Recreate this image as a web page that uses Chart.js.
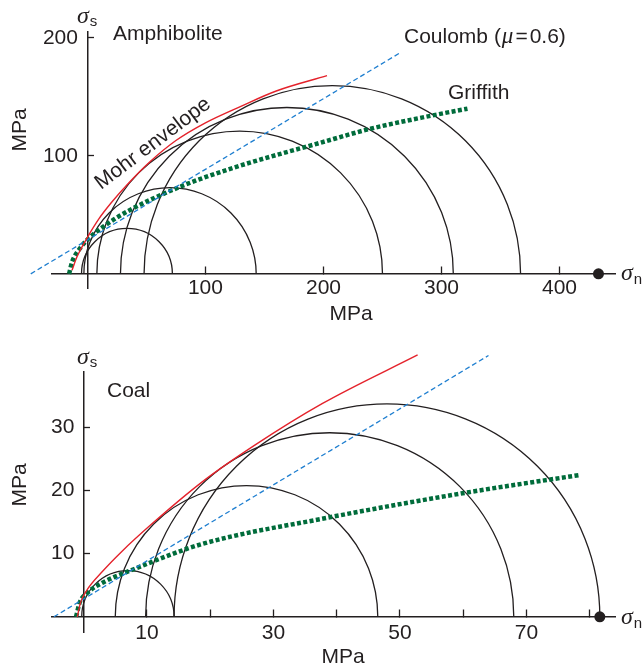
<!DOCTYPE html>
<html>
<head>
<meta charset="utf-8">
<script src="https://cdn.jsdelivr.net/npm/chart.js@4.4.1/dist/chart.umd.min.js"></script>
<style>
  html, body { margin: 0; padding: 0; background: #fff; }
  canvas { display: block; }
</style>
</head>
<body>
<canvas id="amph" width="644" height="330"></canvas>
<canvas id="coal" width="644" height="336"></canvas>
<script>
// ---- Amphibolite (MPa) ----
// Mohr circles given as [sigma3, sigma1]
const amphCircles  = [[-5, 72], [-3, 143], [8, 250], [28, 310], [48, 367]];
const amphMohr     = [[-13, 3], [-9, 14], [-5, 22], [0, 31], [10, 47], [20, 60], [35, 77], [53, 95], [75, 113], [100, 128], [130, 142], [160, 155], [203, 168]];
const amphCoulomb  = [[-48, 0], [266, 188]];
const amphGriffith = [[-15.5, 0], [-13, 10], [-6, 22], [0, 29], [13.5, 40], [34, 53], [79, 74], [124, 90], [197, 111], [240, 123], [291, 134], [322, 140]];
const amphPoint    = [[433, 0]];
const amphXTicks   = [100, 200, 300, 400];
const amphXLabels  = [100, 200, 300, 400];
const amphYTicks   = [100, 200];

// ---- Coal (MPa) ----
const coalCircles  = [[-0.3, 14.3], [5, 46.5], [9.8, 68], [14.3, 81.6]];
const coalMohr     = [[-1, 0], [-0.5, 2.2], [0.5, 4.2], [3, 7.2], [6, 10.3], [10.8, 14.7], [18.7, 21.3], [27, 27.1], [37.7, 33.7], [52.8, 41.4]];
const coalCoulomb  = [[-4.7, 0], [64, 41.3]];
const coalGriffith = [[-1.2, 0], [-0.6, 2.3], [0.6, 3.8], [3, 5.4], [8.1, 7.6], [18.7, 11.5], [37.7, 15.5], [60.3, 19.6], [78.3, 22.4]];
const coalPoint    = [[81.6, 0]];
const coalXTicks   = [10, 20, 30, 40, 50, 60, 70, 80];
const coalXLabels  = [10, 30, 50, 70];
const coalYTicks   = [10, 20, 30];

const SANS  = '"Liberation Sans", Arial, Helvetica, sans-serif';
const SERIF = '"Liberation Serif", "Times New Roman", serif';
const INK   = '#231f20';
const RED   = '#e4222b';
const BLUE  = '#1f7fd0';
const GREEN = '#006c3b';

const toXY = arr => arr.map(([x, y]) => ({ x, y }));

// Semicircles centred on the sigma_n axis, mapped through the chart scales
function circlePlugin(circles) {
  return {
    id: 'mohrCircles',
    beforeDatasetsDraw(chart) {
      const { ctx, scales: { x, y } } = chart;
      ctx.save();
      ctx.strokeStyle = INK;
      ctx.lineWidth = 1.3;
      circles.forEach(([s3, s1]) => {
        const c = (s3 + s1) / 2, r = (s1 - s3) / 2;
        const cx = x.getPixelForValue(c);
        const cy = y.getPixelForValue(0);
        const rx = x.getPixelForValue(c + r) - cx;
        const ry = cy - y.getPixelForValue(r);
        ctx.beginPath();
        ctx.ellipse(cx, cy, rx, ry, 0, Math.PI, 2 * Math.PI);
        ctx.stroke();
      });
      ctx.restore();
    }
  };
}

// Free-standing labels: axis symbols, titles and curve names
function textPlugin(items) {
  return {
    id: 'figureText',
    afterDraw(chart) {
      const ctx = chart.ctx;
      ctx.save();
      ctx.fillStyle = INK;
      ctx.textBaseline = 'alphabetic';
      items.forEach(it => {
        ctx.save();
        ctx.translate(it.x, it.y);
        if (it.rotate) ctx.rotate(it.rotate * Math.PI / 180);
        let total = 0;
        it.runs.forEach(r => { ctx.font = r.font; total += ctx.measureText(r.t).width + (r.dx || 0); });
        let cx = it.center ? -total / 2 : 0;
        it.runs.forEach(r => {
          ctx.font = r.font;
          cx += (r.dx || 0);
          ctx.fillText(r.t, cx, r.dy || 0);
          cx += ctx.measureText(r.t).width;
        });
        ctx.restore();
      });
      ctx.restore();
    }
  };
}

const F21 = `21px ${SANS}`;
const SIG = `italic 24px ${SERIF}`;
const SUB = `15px ${SANS}`;

function buildChart(canvasId, d) {
  const tickFont = { family: SANS, size: 21 };
  const setTicks = list => s => { s.ticks = list.map(v => ({ value: v })); };
  return new Chart(document.getElementById(canvasId), {
    type: 'scatter',
    data: {
      datasets: [
        { label: 'Mohr envelope', data: toXY(d.mohr), showLine: true, borderColor: RED, borderWidth: 1.4,
          pointRadius: 0, cubicInterpolationMode: 'monotone', clip: false },
        { label: 'Coulomb', data: toXY(d.coulomb), showLine: true, borderColor: BLUE, borderWidth: 1.3,
          borderDash: [5, 3], pointRadius: 0, clip: false },
        { label: 'Griffith', data: toXY(d.griffith), showLine: true, borderColor: GREEN, borderWidth: 4.5,
          borderDash: [4, 2.4], borderCapStyle: 'butt', pointRadius: 0, cubicInterpolationMode: 'monotone', clip: false },
        { label: 'sigma1', data: toXY(d.point), pointRadius: 5.5, pointBackgroundColor: INK,
          pointBorderWidth: 0, clip: false }
      ]
    },
    options: {
      responsive: false,
      animation: false,
      events: [],
      layout: { padding: d.pad },
      plugins: { legend: { display: false }, tooltip: { enabled: false } },
      scales: {
        x: {
          type: 'linear', min: d.xMin, max: d.xMax, position: { y: 0 },
          afterFit: s => { s.height = 0; },
          afterBuildTicks: setTicks(d.xTicks),
          ticks: { autoSkip: false, maxRotation: 0, padding: d.xPad, font: tickFont, color: INK,
                   callback: v => d.xLabels.includes(v) ? String(v) : '' },
          grid: { drawOnChartArea: false, drawTicks: true, tickLength: -8, tickColor: INK, tickWidth: 1.3 },
          border: { display: true, color: INK, width: 1.5 }
        },
        y: {
          type: 'linear', min: d.yMin, max: d.yMax, position: { x: 0 },
          afterFit: s => { s.width = 0; },
          afterBuildTicks: setTicks(d.yTicks),
          ticks: { display: false },
          grid: { drawOnChartArea: false, drawTicks: true, tickLength: -7, tickColor: INK, tickWidth: 1.3 },
          border: { display: true, color: INK, width: 1.5 }
        },
        yl: {
          axis: 'y', type: 'linear', min: d.yMin, max: d.yMax, position: { x: d.yLabelAt },
          afterFit: s => { s.width = 0; },
          afterBuildTicks: setTicks(d.yTicks),
          ticks: { autoSkip: false, padding: 0, font: tickFont, color: INK, callback: v => String(v) },
          grid: { display: false },
          border: { display: false }
        }
      }
    },
    plugins: [circlePlugin(d.circles), textPlugin(d.texts)]
  });
}

buildChart('amph', {
  circles: amphCircles, mohr: amphMohr, coulomb: amphCoulomb, griffith: amphGriffith, point: amphPoint,
  xTicks: amphXTicks, xLabels: amphXLabels, yTicks: amphYTicks,
  xMin: -30, xMax: 447, yMin: -12, yMax: 205, yLabelAt: -8, xPad: 9.4,
  pad: { left: 52, right: 29, top: 32, bottom: 42 },
  texts: [
    { x: 77, y: 23, runs: [{ t: 'σ', font: SIG }, { t: 's', font: SUB, dx: 1, dy: 3 }] },
    { x: 113, y: 40, runs: [{ t: 'Amphibolite', font: F21 }] },
    { x: 404, y: 43, runs: [{ t: 'Coulomb (', font: F21 }, { t: 'μ', font: `italic 23px ${SERIF}`, dx: 1 },
                            { t: '=', font: F21, dx: 2 }, { t: '0.6)', font: F21, dx: 2 }] },
    { x: 448, y: 99, runs: [{ t: 'Griffith', font: F21 }] },
    { x: 101, y: 190, rotate: -37, runs: [{ t: 'Mohr envelope', font: F21 }] },
    { x: 351, y: 320, center: true, runs: [{ t: 'MPa', font: F21 }] },
    { x: 26, y: 130, rotate: -90, center: true, runs: [{ t: 'MPa', font: F21 }] },
    { x: 621, y: 280, runs: [{ t: 'σ', font: SIG }, { t: 'n', font: SUB, dx: 1, dy: 4 }] }
  ]
});

buildChart('coal', {
  circles: coalCircles, mohr: coalMohr, coulomb: coalCoulomb, griffith: coalGriffith, point: coalPoint,
  xTicks: coalXTicks, xLabels: coalXLabels, yTicks: coalYTicks,
  xMin: -5, xMax: 84, yMin: -2.4, yMax: 38.7, yLabelAt: -1.45, xPad: 11.4,
  pad: { left: 52, right: 29, top: 42, bottom: 34 },
  texts: [
    { x: 77, y: 34, runs: [{ t: 'σ', font: SIG }, { t: 's', font: SUB, dx: 1, dy: 3 }] },
    { x: 107, y: 67, runs: [{ t: 'Coal', font: F21 }] },
    { x: 343, y: 333, center: true, runs: [{ t: 'MPa', font: F21 }] },
    { x: 26, y: 155, rotate: -90, center: true, runs: [{ t: 'MPa', font: F21 }] },
    { x: 621, y: 294, runs: [{ t: 'σ', font: SIG }, { t: 'n', font: SUB, dx: 1, dy: 4 }] }
  ]
});
</script>
</body>
</html>
